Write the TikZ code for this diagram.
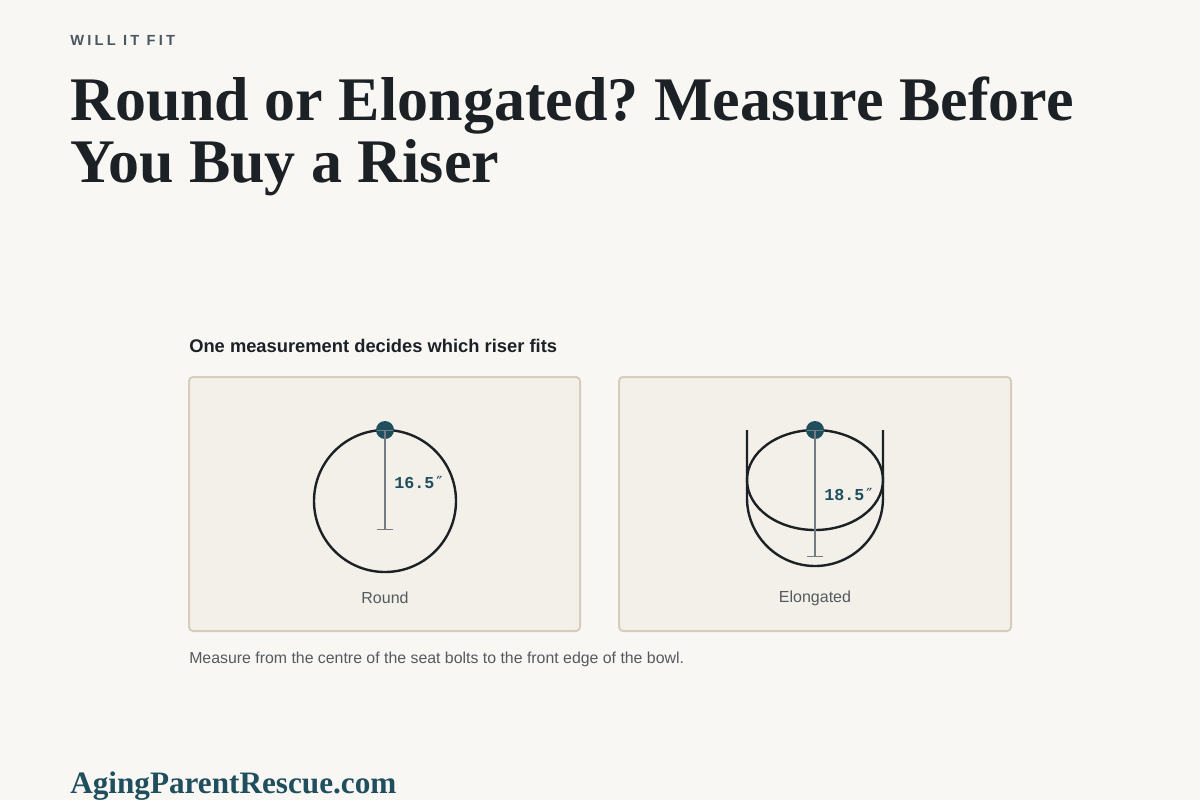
\documentclass[tikz,border=0pt]{standalone}
\usepackage{fontspec}
\setmainfont{Liberation Serif}
\setsansfont{Liberation Sans}
\setmonofont{Liberation Mono}
\newfontfamily\kickerfont[LetterSpace=22]{Liberation Sans}
\newfontfamily\inchfont{DejaVu Sans Mono}
\usetikzlibrary{arrows.meta}
\frenchspacing
\definecolor{page-bg}{HTML}{F9F7F3}
\definecolor{panel-fill}{HTML}{F3F0E9}
\definecolor{panel-edge}{HTML}{D6CDBC}
\definecolor{ink}{HTML}{1C2126}
\definecolor{bolt-teal}{HTML}{1F4E5F}
\definecolor{rule-grey}{HTML}{737B83}
\definecolor{label-grey}{HTML}{555A5F}
\definecolor{kicker-grey}{HTML}{4B5661}

\begin{document}
\begin{tikzpicture}[x=0.75pt, y=-0.75pt, every node/.style={inner sep=0pt},
    panel/.style={draw=panel-edge, line width=1.5pt, fill=panel-fill, rounded corners=3pt},
    bowl/.style={draw=ink, line width=1.8pt},
    bolt/.style={circle, fill=bolt-teal, minimum size=13.5pt},
    measure/.style={draw=rule-grey, line width=1.1pt, {Bar[width=12pt]}-{Bar[width=12pt]}},
    size/.style={font=\ttfamily\bfseries\fontsize{12.5}{14}\selectfont, text=bolt-teal, anchor=west},
    caption/.style={font=\sffamily\fontsize{12}{14}\selectfont, text=label-grey},
    headline/.style={font=\bfseries\fontsize{46.5}{52}\selectfont, text=ink, anchor=base west}]

    \fill[page-bg] (0,0) rectangle (1200,800);
    \useasboundingbox (0,0) rectangle (1200,800);

    % heading block
    \node[font=\kickerfont\bfseries\fontsize{11}{13}\selectfont, text=kicker-grey, anchor=base west] (kicker) at (70,45) {WILL IT FIT};
    \node[headline] (title1) at (70,120) {Round or Elongated? Measure Before};
    \node[headline] (title2) at (70,182) {You Buy a Riser};

    \node[font=\sffamily\bfseries\fontsize{13.75}{16}\selectfont, text=ink, anchor=base west] (lead) at (189,352) {One measurement decides which riser fits};

    % round bowl
    \draw[panel] (189,377) rectangle (580,631);
    \draw[bowl] (385,501) circle [radius=71];
    \node[bolt] (roundbolt) at (385,430) {};
    \coordinate (roundfoot) at (385,530);
    \draw[measure] (roundbolt.center) -- (roundfoot);
    \node[size] (roundsize) at (394,482) {16.5{\inchfont\mdseries ″}};
    \node[caption] (roundname) at (385,598) {Round};

    % elongated bowl
    \draw[panel] (619,377) rectangle (1011,631);
    \draw[bowl] (747,430) -- (747,498) arc[start angle=180, end angle=0, radius=68] -- (883,430);
    \draw[bowl] (815,480) ellipse [x radius=68, y radius=50];
    \node[bolt] (longbolt) at (815,430) {};
    \coordinate (longfoot) at (815,557);
    \draw[measure] (longbolt.center) -- (longfoot);
    \node[size] (longsize) at (824,494) {18.5{\inchfont\mdseries ″}};
    \node[caption] (longname) at (815,598) {Elongated};

    \node[font=\sffamily\fontsize{11.9}{14}\selectfont, text=label-grey, anchor=base west] (note) at (189,663) {Measure from the centre of the seat bolts to the front edge of the bowl.};

    % footer
    \node[font=\bfseries\fontsize{23.4}{26}\selectfont, text=bolt-teal, anchor=base west] (brand) at (70,793) {AgingParentRescue.com};

\end{tikzpicture}
\end{document}
